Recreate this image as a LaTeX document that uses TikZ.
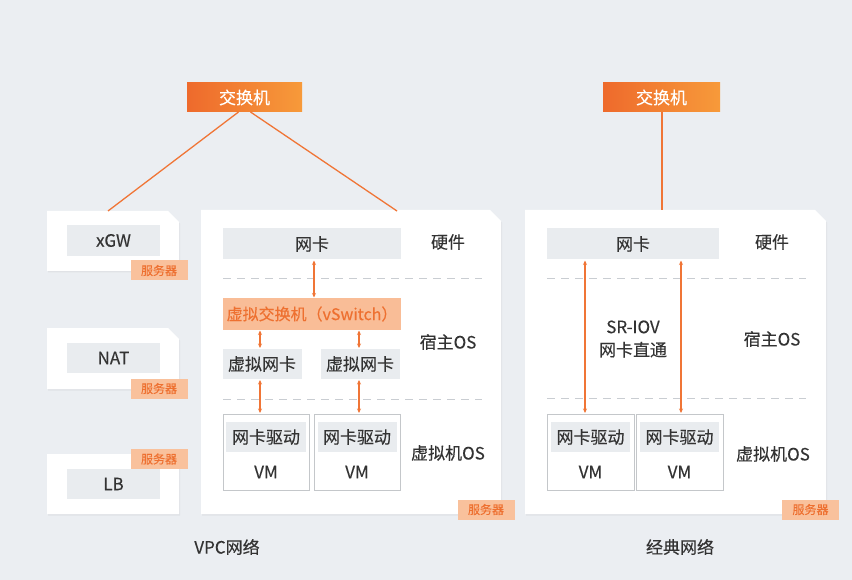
\documentclass[tikz,border=0pt]{standalone}
\usepackage{fontspec}
\setmainfont{Noto Sans CJK SC}[FakeBold=0.25]
\usetikzlibrary{arrows.meta,shadows}
\definecolor{bg}{HTML}{EBEEF2}
\definecolor{txt}{HTML}{333333}
\definecolor{org}{HTML}{F07536}
\definecolor{tagfill}{HTML}{F9C19C}
\definecolor{tagtxt}{HTML}{EE7030}
\definecolor{graybox}{HTML}{E9ECEF}
\definecolor{dashc}{HTML}{C9CDD2}
\definecolor{vmline}{HTML}{C4C7CA}
\definecolor{vswfill}{HTML}{F9BD97}
\definecolor{swL}{HTML}{EE6A2C}
\definecolor{swR}{HTML}{F79A3A}
\tikzset{
  x=1pt, y=-1pt,
  base/.style={inner sep=0pt, outer sep=0pt, text=txt},
  switchbox/.style={base, left color=swL, right color=swR, text=white, font=\fontsize{17}{19}\selectfont},
  serverbox/.style={base},
  srvfill/.style={fill=white, drop shadow={opacity=0.10, shadow xshift=1pt, shadow yshift=-1.5pt}},
  gbox/.style={base, fill=graybox, font=\fontsize{17}{19}\selectfont},
  tagbox/.style={base, fill=tagfill, text=tagtxt, minimum width=57pt, minimum height=20pt, font=\fontsize{12}{14}\selectfont},
  lbl/.style={base, font=\fontsize{17}{19}\selectfont},
  vmbox/.style={base, draw=vmline, line width=1pt, fill=white},
  sep/.style={draw=dashc, line width=1pt, dash pattern=on 8pt off 6pt},
  link/.style={draw=org, line width=1.3pt},
  arr/.style={draw=org, line width=1.5pt, {Stealth[length=4.5pt,width=4pt]}-{Stealth[length=4.5pt,width=4pt]}, shorten <=1pt, shorten >=1pt},
}
\newcommand{\chamf}[2]{% node name, chamfer size
  \path[srvfill] (#1.north west) -- ([xshift=-#2]#1.north east) -- ([yshift=-#2]#1.north east) -- (#1.south east) -- (#1.south west) -- cycle;}
\begin{document}
\begin{tikzpicture}
\path[use as bounding box, fill=bg] (0,0) rectangle (852,580);

% switches
\node[switchbox, minimum width=115pt, minimum height=29pt] (sw1) at (244.5,97.5) {交换机};
\node[switchbox, minimum width=117pt, minimum height=29pt] (sw2) at (661.5,97.5) {交换机};

% small servers
\node[serverbox, minimum width=132pt, minimum height=60pt] (s1) at (113,241) {};
\node[serverbox, minimum width=132pt, minimum height=61pt] (s2) at (113,358.5) {};
\node[serverbox, minimum width=132pt, minimum height=60pt] (s3) at (113,484) {};
% big servers
\node[serverbox, minimum width=300pt, minimum height=304pt] (vpc) at (351,362) {};
\node[serverbox, minimum width=301pt, minimum height=304pt] (cls) at (675.5,362) {};

\chamf{s1}{11pt}
\chamf{s2}{11pt}
\chamf{s3}{11pt}
\chamf{vpc}{11pt}
\chamf{cls}{11pt}

% switch links
\coordinate (t1) at (108,211);
\coordinate (t2) at (397,211);
\draw[link] ([xshift=-6pt]sw1.south) -- (t1);
\draw[link] ([xshift=6pt]sw1.south) -- (t2);
\draw[link] ([xshift=0.5pt]sw2.south) coordinate (u0) -- (u0 |- cls.north);

% small server contents
\node[gbox, minimum width=93pt, minimum height=31pt] (xgw) at (113.5,240.5) {xGW};
\node[tagbox] (tg1) at (159,270.5) {服务器};
\node[gbox, minimum width=93pt, minimum height=30pt] (nat) at (113.5,358) {NAT};
\node[tagbox] (tg2) at (159,388.5) {服务器};
\node[gbox, minimum width=93pt, minimum height=30pt] (lb) at (113.5,484) {LB};
\node[tagbox] (tg3) at (159,459) {服务器};

% VPC server
\node[gbox, minimum width=178pt, minimum height=31pt] (nic1) at (312,244) {网卡};
\node[lbl] (hw1) at (448,242) {硬件};
\draw[sep] (223,279) -- (482,279);
\node[base, fill=vswfill, text=tagtxt, minimum width=178pt, minimum height=31pt, font=\fontsize{16}{18}\selectfont] (vsw) at (312,314) {虚拟交换机（vSwitch）};
\node[gbox, minimum width=79pt, minimum height=30pt] (vn1) at (262,364) {虚拟网卡};
\node[gbox, minimum width=79pt, minimum height=30pt] (vn2) at (360,364) {虚拟网卡};
\node[lbl] (host1) at (448,342) {宿主OS};
\draw[sep] (223,399) -- (482,399);
\node[vmbox, minimum width=86pt, minimum height=76pt] (vm1) at (266,452) {};
\node[vmbox, minimum width=86pt, minimum height=76pt] (vm2) at (357,452) {};
\node[gbox, minimum width=80pt, minimum height=30pt] (d1) at (266,437) {网卡驱动};
\node[gbox, minimum width=79pt, minimum height=30pt] (d2) at (357,437) {网卡驱动};
\node[lbl] (vmt1) at (266,472) {VM};
\node[lbl] (vmt2) at (357,472) {VM};
\node[lbl] (vos1) at (448,453) {虚拟机OS};
\node[tagbox] (tg4) at (486,509.5) {服务器};

\draw[arr] (nic1.south -| vsw.north) ++(2pt,0) coordinate (a0) -- (a0 |- vsw.north);
\draw[arr] ([xshift=-2pt]vn1.north) coordinate (a1) -- (a1 |- vsw.south);
\draw[arr] ([xshift=-1pt]vn2.north) coordinate (a2) -- (a2 |- vsw.south);
\draw[arr] ([xshift=-2pt]vn1.south) coordinate (a3) -- (a3 |- vm1.north);
\draw[arr] ([xshift=-1pt]vn2.south) coordinate (a4) -- (a4 |- vm2.north);

% classic server
\node[gbox, minimum width=172pt, minimum height=31pt] (nic2) at (633,244) {网卡};
\node[lbl] (hw2) at (772,242) {硬件};
\draw[sep] (547,279) -- (806,279);
\node[lbl, align=center, font=\fontsize{17}{23}\selectfont] (sriov) at (633,339) {SR-IOV\\网卡直通};
\node[lbl] (host2) at (772,339) {宿主OS};
\draw[sep] (547,398) -- (806,398);
\node[vmbox, minimum width=87pt, minimum height=76pt] (vm3) at (590.5,452) {};
\node[vmbox, minimum width=87pt, minimum height=76pt] (vm4) at (679.5,452) {};
\node[gbox, minimum width=79pt, minimum height=30pt] (d3) at (590.5,437) {网卡驱动};
\node[gbox, minimum width=79pt, minimum height=30pt] (d4) at (679.5,437) {网卡驱动};
\node[lbl] (vmt3) at (590.5,472) {VM};
\node[lbl] (vmt4) at (679.5,472) {VM};
\node[lbl] (vos2) at (773,454) {虚拟机OS};
\node[tagbox] (tg5) at (810.5,509.5) {服务器};

\coordinate (c1) at (585,0);
\coordinate (c2) at (681,0);
\draw[arr] (c1 |- nic2.south) -- (c1 |- vm3.north);
\draw[arr] (c2 |- nic2.south) -- (c2 |- vm4.north);

% captions
\node[lbl] (cap1) at (227,547) {VPC网络};
\node[lbl] (cap2) at (680,547) {经典网络};
\end{tikzpicture}
\end{document}
